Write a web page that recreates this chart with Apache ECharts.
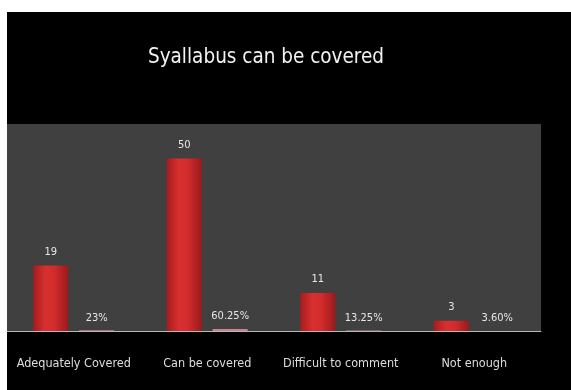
<!DOCTYPE html>
<html>
<head>
<meta charset="utf-8">
<script src="https://cdn.jsdelivr.net/npm/echarts@6/dist/echarts.min.js"></script>
<style>
html,body{margin:0;padding:0;background:#fff;width:571px;height:390px;overflow:hidden;}
#chart{position:absolute;left:7px;top:12px;width:564px;height:378px;background:#000;}
</style>
</head>
<body>
<div id="chart"></div>
<script>
var titleText = 'Syallabus can be covered';
var categories = ['Adequately Covered', 'Can be covered', 'Difficult to comment', 'Not enough'];
var counts = [19, 50, 11, 3];
var pctValues = [0.23, 0.6025, 0.1325, 0.036];
var pctLabels = ['23%', '60.25%', '13.25%', '3.60%'];

var FONT = "'DejaVu Sans Condensed', 'Liberation Sans Narrow', 'Liberation Sans', sans-serif";
var chart = echarts.init(document.getElementById('chart'), null, {renderer: 'canvas'});
chart.setOption({
  backgroundColor: '#000',
  animation: false,
  title: {
    text: titleText,
    left: 254, top: 30, textAlign: 'center',
    textStyle: {color: '#f2f2f2', fontSize: 20.5, fontWeight: 'normal', fontFamily: FONT}
  },
  grid: {left: 0, right: 30, top: 112, bottom: 59, show: true, backgroundColor: '#404040', borderWidth: 0},
  xAxis: {
    type: 'category', data: categories,
    axisLine: {show: true, lineStyle: {color: '#b8b8b8', width: 1}},
    axisTick: {show: false},
    axisLabel: {color: '#dedede', fontSize: 12.5, fontFamily: FONT, margin: 26, interval: 0}
  },
  yAxis: {
    type: 'value', min: 0, max: 60, show: false,
    splitLine: {show: false}
  },
  series: [
    {
      type: 'bar', data: counts, barWidth: 35, barGap: '31%',
      itemStyle: {
        color: new echarts.graphic.LinearGradient(0, 0, 1, 0, [
          {offset: 0, color: '#a51c1f'},
          {offset: 0.35, color: '#d8302f'},
          {offset: 0.6, color: '#d22c2c'},
          {offset: 1, color: '#9b1a1c'}
        ])
      },
      label: {show: true, position: 'top', distance: 8, color: '#e6e6e6', fontSize: 11, fontFamily: FONT}
    },
    {
      type: 'bar', data: pctValues, barWidth: 35,
      itemStyle: {color: '#c9828e'},
      label: {
        show: true, position: 'top', distance: 7, color: '#e6e6e6', fontSize: 11, fontFamily: FONT,
        formatter: function (p) { return pctLabels[p.dataIndex]; }
      }
    }
  ]
});
</script>
</body>
</html>
